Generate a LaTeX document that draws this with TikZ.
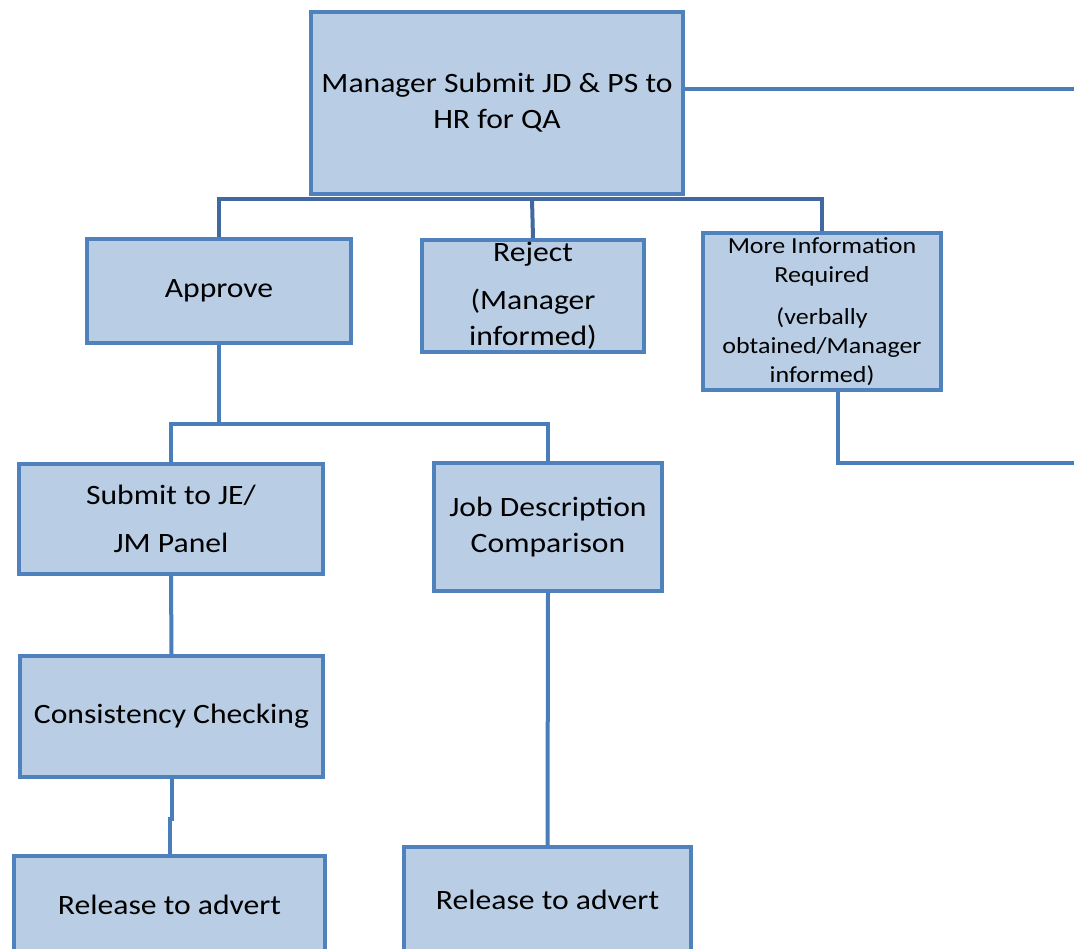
\documentclass[tikz,border=0pt]{standalone}
\usepackage{fontspec}
\setmainfont{Carlito}[FakeStretch=1.13]
\usepackage{xcolor}
\usepackage{tikz}

\definecolor{boxfill}{HTML}{B9CDE5}
\definecolor{boxline}{HTML}{4F81BD}
\definecolor{linkline}{HTML}{4A7EBB}
\definecolor{barline}{HTML}{41699F}

\tikzset{
  stage/.style={draw=boxline, fill=boxfill, line width=4pt, align=center,
    font=\fontsize{28}{36}\selectfont, inner sep=0pt},
  small/.style={font=\fontsize{23}{29}\selectfont},
  link/.style={draw=linkline, line width=4pt},
}

\begin{document}
\begin{tikzpicture}[x=1pt, y=-1pt]
            \useasboundingbox (0,0) rectangle (1074,949);

            \node[stage, minimum width=372pt, minimum height=182pt] (top) at (497,103)
                {Manager Submit JD \& PS to\\HR for QA};
            \node[stage, minimum width=264pt, minimum height=104pt] (approve) at (219,291) {Approve};
            \node[stage, minimum width=222pt, minimum height=112pt] (reject) at (533,296)
                {Reject\\[12pt](Manager\\informed)};
            \node[stage, small, minimum width=238pt, minimum height=157pt] (info) at (822,311.5)
                {More Information\\Required\\[13pt](verbally\\obtained/Manager\\informed)};
            \node[stage, minimum width=304pt, minimum height=110pt] (submit) at (171,519)
                {Submit to JE/\\[12pt]JM Panel};
            \node[stage, minimum width=228pt, minimum height=128pt] (jd) at (548,527)
                {Job Description\\Comparison};
            \node[stage, minimum width=303pt, minimum height=121pt] (cons) at (171.5,716.5)
                {Consistency Checking};
            \node[stage, minimum width=311pt, minimum height=98pt] (rel1) at (169.5,905)
                {Release to advert};
            \node[stage, minimum width=287pt, minimum height=106pt] (rel2) at (547.5,900)
                {Release to advert};

            \coordinate (split1) at (532,199);
            \coordinate (split2) at (219,424);
            \coordinate (outR) at (1074,89);
            \coordinate (outR2) at (1074,463);

            % top level
            \draw[link] (top.east |- outR) -- (outR);
            \draw[link, draw=barline] (approve.north) |- (split1) -| (info.north);
            \draw[link, draw=barline] (split1) -- (reject.north);
            \draw[link] ([xshift=16pt]info.south) |- (outR2);

            % approve branch
            \draw[link] (approve.south) -- (split2);
            \draw[link] (submit.north) |- (split2) -| (jd.north);
            \draw[link] (submit.south) -- (cons.north);
            \draw[link] (cons.south) -- ++(0,40) -| (rel1.north);
            \draw[link] (jd.south) -- (rel2.north);
\end{tikzpicture}
\end{document}
